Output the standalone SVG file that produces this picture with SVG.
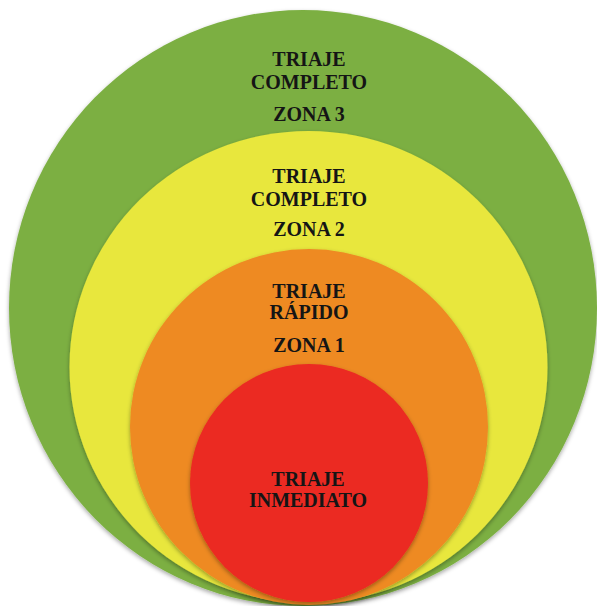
<svg xmlns="http://www.w3.org/2000/svg" width="597" height="606" viewBox="0 0 597 606">
<defs>
<filter id="sh" x="-10%" y="-10%" width="120%" height="120%">
<feDropShadow dx="0" dy="2" stdDeviation="2" flood-color="#000" flood-opacity="0.35"/>
</filter>
</defs>
<style>
.t{font-family:"Liberation Serif","Times New Roman",serif;font-weight:bold;font-size:20px;fill:#151515;text-anchor:middle}
</style>
<rect width="597" height="606" fill="#ffffff"/>
<g id="zona3">
<ellipse cx="303" cy="308" rx="294" ry="298" fill="#7BAF42" filter="url(#sh)"/>
<text class="t" x="309" y="66">TRIAJE</text>
<text class="t" x="309" y="89">COMPLETO</text>
<text class="t" x="309" y="121">ZONA 3</text>
</g>
<g id="zona2">
<ellipse cx="308.5" cy="367" rx="239" ry="236" fill="#E8E73E" filter="url(#sh)"/>
<text class="t" x="309" y="183">TRIAJE</text>
<text class="t" x="309" y="206">COMPLETO</text>
<text class="t" x="309" y="236">ZONA 2</text>
</g>
<g id="zona1">
<ellipse cx="309" cy="427" rx="179" ry="178" fill="#EE8A24" filter="url(#sh)"/>
<text class="t" x="309" y="298">TRIAJE</text>
<text class="t" x="309" y="319">RÁPIDO</text>
<text class="t" x="309" y="352">ZONA 1</text>
</g>
<g id="inmediato">
<ellipse cx="309" cy="483" rx="119" ry="119" fill="#EB2A22" filter="url(#sh)"/>
<text class="t" x="308" y="486">TRIAJE</text>
<text class="t" x="308" y="507">INMEDIATO</text>
</g>
<g id="connectors"/>
</svg>
